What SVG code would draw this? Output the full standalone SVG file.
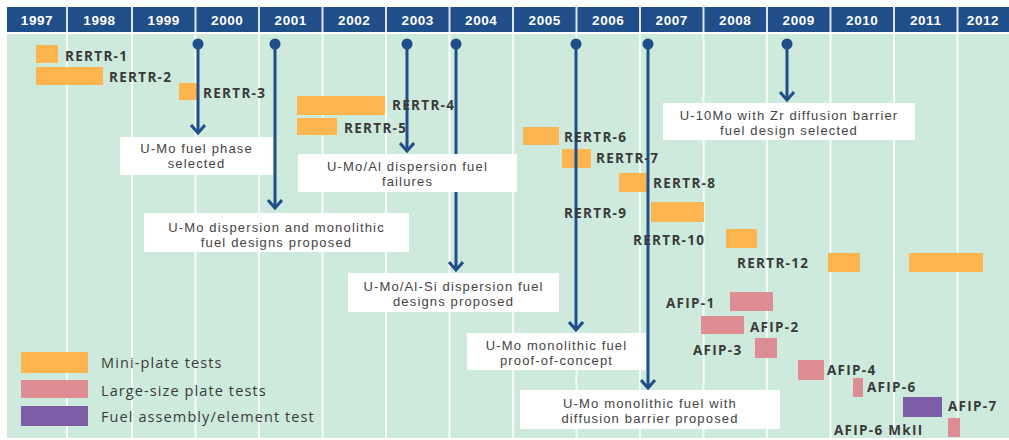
<svg xmlns="http://www.w3.org/2000/svg" width="1009" height="440" viewBox="0 0 1009 440">
<defs>
<style>
.hdr{fill:#1f4e89}
.yr{font-family:"Liberation Sans",Arial,sans-serif;font-weight:bold;font-size:13.5px;fill:#fff;text-anchor:middle;letter-spacing:0.6px}
.grid{stroke:#ffffff;stroke-width:2;opacity:0.85}
.mini{fill:#fdb64f}
.large{fill:#de8d95}
.fa{fill:#7d5da6}
.lbl{font-family:"Open Sans",sans-serif;font-weight:bold;font-size:13.5px;fill:#3a3a3a;letter-spacing:1.3px}
.conn line{stroke:#1f4e89;stroke-width:3;marker-end:url(#chev)}
.conn circle{fill:#1f4e89}
.box rect{fill:#fff}
.bt{font-family:"Liberation Sans",Arial,sans-serif;font-size:13px;fill:#444;text-anchor:middle;letter-spacing:1.15px}
.leg{font-family:"Open Sans",sans-serif;font-size:14.5px;fill:#3a3a3a;letter-spacing:1.1px}
</style>
<marker id="chev" viewBox="0 0 12 16" refX="10" refY="8" markerWidth="12" markerHeight="16" markerUnits="userSpaceOnUse" orient="auto">
<path d="M2,1 L10,8 L2,15" fill="none" stroke="#1f4e89" stroke-width="3"/>
</marker>
</defs>
<rect x="0" y="0" width="1009" height="440" fill="#fff"/>
<g id="header">
<rect class="hdr" x="7" y="7" width="1002" height="25"/>
<rect x="7" y="34" width="1002" height="404" fill="#cdeadd"/>
<g class="grid">
<line x1="67" y1="7" x2="67" y2="438"/>
<line x1="132" y1="7" x2="132" y2="438"/>
<line x1="195.5" y1="7" x2="195.5" y2="438"/>
<line x1="259" y1="7" x2="259" y2="438"/>
<line x1="322.5" y1="7" x2="322.5" y2="438"/>
<line x1="386" y1="7" x2="386" y2="438"/>
<line x1="449.5" y1="7" x2="449.5" y2="438"/>
<line x1="513" y1="7" x2="513" y2="438"/>
<line x1="576.5" y1="7" x2="576.5" y2="438"/>
<line x1="640" y1="7" x2="640" y2="438"/>
<line x1="703.5" y1="7" x2="703.5" y2="438"/>
<line x1="767" y1="7" x2="767" y2="438"/>
<line x1="830.5" y1="7" x2="830.5" y2="438"/>
<line x1="894" y1="7" x2="894" y2="438"/>
<line x1="957.5" y1="7" x2="957.5" y2="438"/>
</g>
<text class="yr" x="37" y="24.5">1997</text>
<text class="yr" x="99.5" y="24.5">1998</text>
<text class="yr" x="163.75" y="24.5">1999</text>
<text class="yr" x="227.25" y="24.5">2000</text>
<text class="yr" x="290.75" y="24.5">2001</text>
<text class="yr" x="354.25" y="24.5">2002</text>
<text class="yr" x="417.75" y="24.5">2003</text>
<text class="yr" x="481.25" y="24.5">2004</text>
<text class="yr" x="544.75" y="24.5">2005</text>
<text class="yr" x="608.25" y="24.5">2006</text>
<text class="yr" x="671.75" y="24.5">2007</text>
<text class="yr" x="735.25" y="24.5">2008</text>
<text class="yr" x="798.75" y="24.5">2009</text>
<text class="yr" x="862.25" y="24.5">2010</text>
<text class="yr" x="925.75" y="24.5">2011</text>
<text class="yr" x="983" y="24.5">2012</text>
</g>
<g id="bars">
<rect id="rertr1" class="mini" x="36" y="45" width="22" height="18"/>
<rect id="rertr2" class="mini" x="36" y="67" width="67" height="18"/>
<rect id="rertr3" class="mini" x="179" y="83" width="18" height="17"/>
<rect id="rertr4" class="mini" x="297" y="96" width="88" height="19"/>
<rect id="rertr5" class="mini" x="297" y="118" width="40" height="17"/>
<rect id="rertr6" class="mini" x="523" y="127" width="36" height="18"/>
<rect id="rertr7" class="mini" x="562" y="149" width="29" height="19"/>
<rect id="rertr8" class="mini" x="619" y="173" width="29" height="19"/>
<rect id="rertr9" class="mini" x="651" y="202" width="53" height="20"/>
<rect id="rertr10" class="mini" x="726" y="229" width="31" height="19"/>
<rect id="rertr12a" class="mini" x="828" y="253" width="32" height="19"/>
<rect id="rertr12b" class="mini" x="909" y="253" width="74" height="19"/>
<rect id="afip1" class="large" x="730" y="292" width="43" height="19"/>
<rect id="afip2" class="large" x="701" y="316" width="43" height="18"/>
<rect id="afip3" class="large" x="755" y="338" width="22" height="20"/>
<rect id="afip4" class="large" x="798" y="360" width="26" height="20"/>
<rect id="afip6" class="large" x="853" y="378" width="10" height="19"/>
<rect id="afip7" class="fa" x="903" y="397" width="39" height="20"/>
<rect id="afip6mk2" class="large" x="948" y="418" width="12" height="19"/>
</g>
<g id="connectors" class="conn">
<line x1="198" y1="44" x2="198" y2="133"/><circle cx="198" cy="44" r="5.5"/>
<line x1="275" y1="44" x2="275" y2="208"/><circle cx="275" cy="44" r="5.5"/>
<line x1="407" y1="44" x2="407" y2="151"/><circle cx="407" cy="44" r="5.5"/>
<line x1="456" y1="44" x2="456" y2="270"/><circle cx="456" cy="44" r="5.5"/>
<line x1="576" y1="44" x2="576" y2="330"/><circle cx="576" cy="44" r="5.5"/>
<line x1="648" y1="44" x2="648" y2="388"/><circle cx="648" cy="44" r="5.5"/>
<line x1="787" y1="44" x2="787" y2="100"/><circle cx="787" cy="44" r="5.5"/>
</g>
<g id="callouts" class="box">
<g id="ev2000"><rect x="120" y="137" width="153" height="38"/><text class="bt" x="196.5" y="153">U-Mo fuel phase</text><text class="bt" x="196.5" y="168">selected</text></g>
<g id="ev2001"><rect x="144" y="213" width="265" height="39"/><text class="bt" x="276.5" y="231.5">U-Mo dispersion and monolithic</text><text class="bt" x="276.5" y="246.5">fuel designs proposed</text></g>
<g id="ev2003"><rect x="298" y="154" width="219" height="38"/><text class="bt" x="407.5" y="171">U-Mo/Al dispersion fuel</text><text class="bt" x="407.5" y="186">failures</text></g>
<g id="ev2004"><rect x="348" y="273" width="211" height="39"/><text class="bt" x="453.5" y="291">U-Mo/Al-Si dispersion fuel</text><text class="bt" x="453.5" y="306">designs proposed</text></g>
<g id="ev2006"><rect x="467" y="333" width="179" height="37"/><text class="bt" x="556.5" y="349.5">U-Mo monolithic fuel</text><text class="bt" x="556.5" y="364.5">proof-of-concept</text></g>
<g id="ev2007"><rect x="520" y="390" width="260" height="39"/><text class="bt" x="650" y="407.5">U-Mo monolithic fuel with</text><text class="bt" x="650" y="422.5">diffusion barrier proposed</text></g>
<g id="ev2009"><rect x="663" y="103" width="252" height="37"/><text class="bt" x="789" y="119.5">U-10Mo with Zr diffusion barrier</text><text class="bt" x="789" y="134.5">fuel design selected</text></g>
</g>
<g id="labels">
<text class="lbl" x="65" y="61">RERTR-1</text>
<text class="lbl" x="109" y="82">RERTR-2</text>
<text class="lbl" x="203" y="98">RERTR-3</text>
<text class="lbl" x="392" y="110">RERTR-4</text>
<text class="lbl" x="344" y="133">RERTR-5</text>
<text class="lbl" x="564" y="142">RERTR-6</text>
<text class="lbl" x="596" y="163">RERTR-7</text>
<text class="lbl" x="653" y="188">RERTR-8</text>
<text class="lbl" x="564" y="218">RERTR-9</text>
<text class="lbl" x="633" y="245">RERTR-10</text>
<text class="lbl" x="737" y="268">RERTR-12</text>
<text class="lbl" x="666" y="308">AFIP-1</text>
<text class="lbl" x="750" y="332">AFIP-2</text>
<text class="lbl" x="693" y="355">AFIP-3</text>
<text class="lbl" x="827" y="375">AFIP-4</text>
<text class="lbl" x="867" y="392">AFIP-6</text>
<text class="lbl" x="948" y="411">AFIP-7</text>
<text class="lbl" x="834" y="435">AFIP-6 MkII</text>
</g>
<g id="legend">
<rect class="mini" x="21" y="352" width="67" height="21"/>
<rect class="large" x="21" y="380" width="67" height="18"/>
<rect class="fa" x="21" y="406" width="67" height="20"/>
<text class="leg" x="101" y="368">Mini-plate tests</text>
<text class="leg" x="101" y="396">Large-size plate tests</text>
<text class="leg" x="101" y="422">Fuel assembly/element test</text>
</g>
</svg>
